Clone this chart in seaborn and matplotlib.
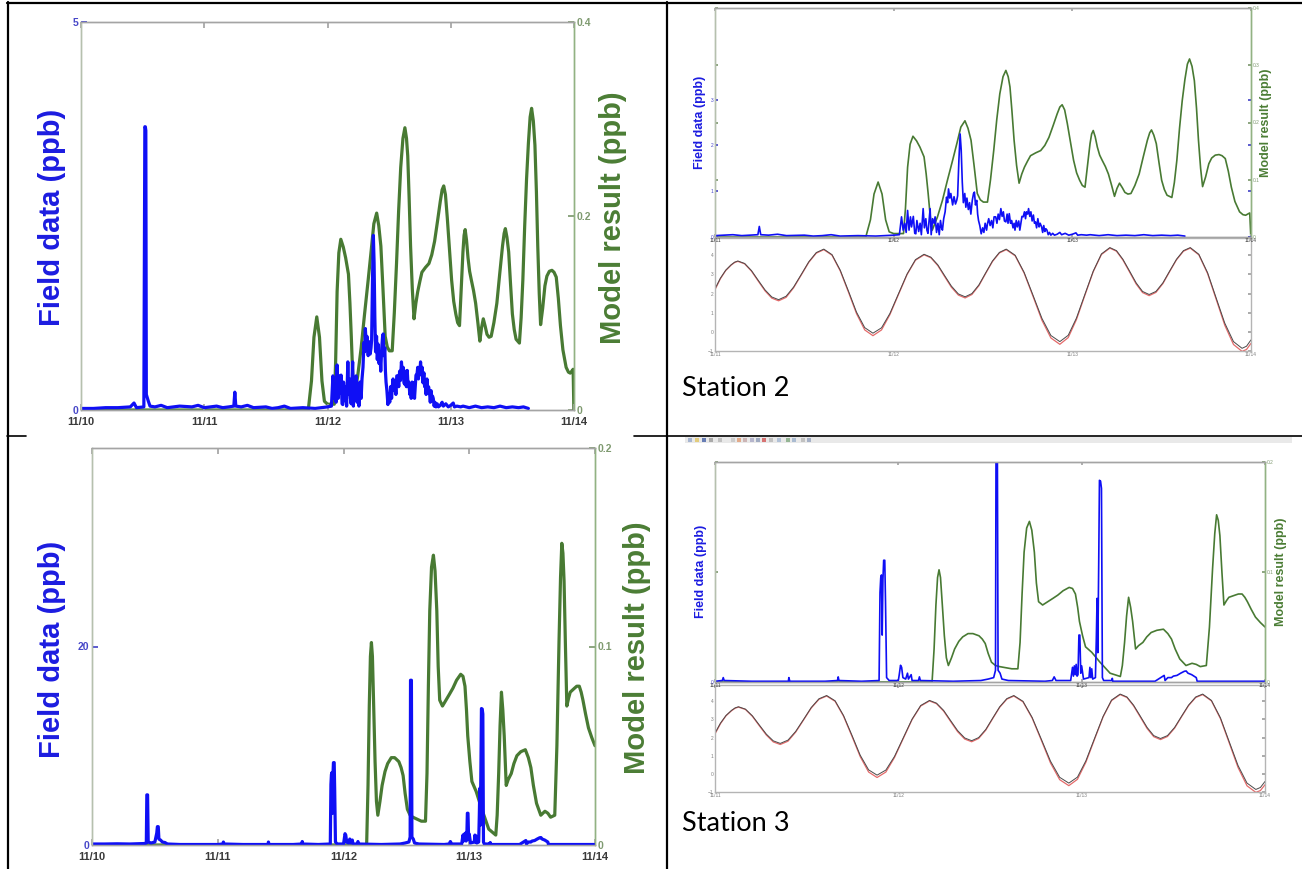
import matplotlib
matplotlib.use("Agg")
import matplotlib.pyplot as plt
from matplotlib.lines import Line2D
from matplotlib.patches import Rectangle
import seaborn as sns

sns.set_theme(style="white")
plt.rcParams["font.family"] = ["Liberation Sans", "DejaVu Sans"]

# ---------------- data (time in days after 11/10 00:00) ----------------
day_ticks = [0, 1, 2, 3, 4]
day_labels = ["11/10", "11/11", "11/12", "11/13", "11/14"]

# Station 1/2 field data (ppb)
field1_t = [0.00, 0.10, 0.20, 0.30, 0.40, 0.43, 0.45, 0.51, 0.518, 0.522, 0.526, 0.530, 0.545, 0.56,
            0.60, 0.65, 0.70, 0.80, 0.90, 0.95, 1.00, 1.10, 1.15, 1.20, 1.24, 1.248, 1.256, 1.30,
            1.35, 1.40, 1.50, 1.55, 1.60, 1.65, 1.70, 1.80, 1.90, 1.95, 2.00, 2.032,
            2.044, 2.053, 2.062, 2.07, 2.078, 2.086, 2.094, 2.10, 2.11, 2.118, 2.124, 2.13, 2.14,
            2.148, 2.155, 2.165, 2.172, 2.18, 2.186, 2.192, 2.20, 2.204, 2.21, 2.218, 2.226, 2.232,
            2.24, 2.248, 2.255, 2.262, 2.268, 2.273, 2.28, 2.288, 2.296, 2.302, 2.307, 2.314, 2.32,
            2.33, 2.338, 2.346, 2.353, 2.358, 2.365, 2.372, 2.378, 2.384, 2.39, 2.398, 2.404, 2.41,
            2.418, 2.425, 2.432, 2.44, 2.447, 2.452, 2.458, 2.465, 2.47, 2.475, 2.482, 2.49, 2.498,
            2.505, 2.512, 2.52, 2.525, 2.532, 2.54, 2.548, 2.555, 2.562, 2.571, 2.578, 2.585, 2.592,
            2.60, 2.607, 2.614, 2.62, 2.628, 2.635, 2.64, 2.647, 2.654, 2.66, 2.668, 2.674, 2.679,
            2.686, 2.692, 2.70, 2.706, 2.712, 2.718, 2.725, 2.732, 2.738, 2.743, 2.75, 2.755, 2.762,
            2.768, 2.775, 2.782, 2.788, 2.794, 2.80, 2.807, 2.814, 2.82, 2.828, 2.834, 2.84, 2.846,
            2.852, 2.858, 2.865, 2.872, 2.88, 2.89, 2.90, 2.915, 2.93, 2.94, 2.96, 2.98, 3.00, 3.02,
            3.03, 3.05, 3.08, 3.10, 3.15, 3.20, 3.25, 3.30, 3.35, 3.40, 3.45, 3.50, 3.55, 3.59, 3.63]
field1_v = [0.02, 0.02, 0.03, 0.03, 0.04, 0.09, 0.03, 0.04, 3.65, 3.65, 3.60, 0.20, 0.12, 0.05,
            0.04, 0.06, 0.03, 0.05, 0.04, 0.06, 0.03, 0.05, 0.03, 0.04, 0.05, 0.23, 0.05, 0.04,
            0.06, 0.03, 0.04, 0.02, 0.03, 0.05, 0.02, 0.03, 0.02, 0.03, 0.04, 0.05,
            0.44, 0.15, 0.30, 0.10, 0.58, 0.15, 0.44, 0.22, 0.45, 0.08, 0.07, 0.36, 0.12,
            0.30, 0.05, 0.62, 0.20, 0.40, 0.15, 0.08, 0.45, 0.62, 0.05, 0.40, 0.30, 0.44,
            0.10, 0.30, 0.05, 0.36, 0.20, 0.15, 0.40, 0.55, 0.87, 0.75, 1.05, 0.85, 0.95,
            0.70, 0.88, 0.72, 0.80, 0.90, 1.67, 2.25, 1.90, 1.20, 0.75, 0.95, 0.65, 0.85,
            0.60, 0.75, 0.50, 0.80, 0.95, 0.98, 0.70, 0.80, 0.50, 0.36, 0.25, 0.07, 0.20,
            0.10, 0.30, 0.15, 0.29, 0.40, 0.25, 0.36, 0.20, 0.44, 0.44, 0.30, 0.50, 0.38,
            0.62, 0.45, 0.55, 0.35, 0.33, 0.50, 0.30, 0.51, 0.30, 0.36, 0.20, 0.30, 0.15,
            0.36, 0.22, 0.35, 0.15, 0.30, 0.45, 0.44, 0.55, 0.40, 0.55, 0.50, 0.62, 0.45,
            0.55, 0.35, 0.48, 0.30, 0.33, 0.20, 0.40, 0.22, 0.30, 0.22, 0.10, 0.25, 0.12,
            0.18, 0.15, 0.05, 0.10, 0.04, 0.08, 0.04, 0.06, 0.10, 0.05, 0.08, 0.04, 0.06, 0.09,
            0.04, 0.05, 0.04, 0.05, 0.03, 0.05, 0.03, 0.04, 0.03, 0.05, 0.03, 0.04, 0.03, 0.04, 0.02]

# Station 1/2 model result (ppb)
model1_t = [0.0, 1.844, 1.87, 1.89, 1.913, 1.935, 1.955, 1.975, 2.0, 2.055, 2.066, 2.078, 2.092, 2.108,
            2.128, 2.147, 2.17, 2.182, 2.193, 2.205, 2.216, 2.245, 2.273, 2.30, 2.33, 2.355, 2.376,
            2.399, 2.416, 2.433, 2.45, 2.468, 2.485, 2.502, 2.525, 2.542, 2.56, 2.577, 2.594, 2.612,
            2.628, 2.641, 2.651, 2.662, 2.674, 2.688, 2.702, 2.717, 2.732, 2.75, 2.766, 2.795, 2.823,
            2.846, 2.869, 2.893, 2.915, 2.93, 2.943, 2.957, 2.972, 2.99, 3.007, 3.024, 3.041, 3.056,
            3.071, 3.085, 3.099, 3.108, 3.117, 3.128, 3.14, 3.153, 3.167, 3.185, 3.202, 3.22, 3.236,
            3.25, 3.264, 3.28, 3.294, 3.311, 3.328, 3.35, 3.374, 3.397, 3.42, 3.433, 3.443, 3.456,
            3.47, 3.485, 3.50, 3.515, 3.53, 3.557, 3.571, 3.585, 3.60, 3.615, 3.63, 3.644, 3.656,
            3.67, 3.683, 3.695, 3.706, 3.718, 3.729, 3.746, 3.764, 3.78, 3.80, 3.821, 3.838, 3.856,
            3.873, 3.89, 3.91, 3.936, 3.955, 3.97, 3.993, 3.999]
model1_v = [0.0, 0.0, 0.03, 0.075, 0.096, 0.075, 0.03, 0.009, 0.006, 0.006, 0.05, 0.122, 0.162, 0.176,
            0.168, 0.157, 0.14, 0.11, 0.076, 0.035, 0.012, 0.035, 0.064, 0.098, 0.134, 0.165, 0.192,
            0.203, 0.19, 0.169, 0.125, 0.076, 0.065, 0.061, 0.061, 0.10, 0.151, 0.205, 0.25, 0.28,
            0.291, 0.28, 0.262, 0.22, 0.169, 0.125, 0.094, 0.11, 0.122, 0.133, 0.142, 0.147, 0.151,
            0.16, 0.174, 0.195, 0.215, 0.227, 0.231, 0.222, 0.198, 0.165, 0.134, 0.112, 0.099, 0.09,
            0.087, 0.125, 0.163, 0.18, 0.186, 0.175, 0.157, 0.143, 0.134, 0.123, 0.11, 0.09, 0.071,
            0.085, 0.094, 0.086, 0.078, 0.075, 0.076, 0.09, 0.11, 0.14, 0.169, 0.182, 0.187, 0.178,
            0.163, 0.13, 0.099, 0.083, 0.073, 0.069, 0.095, 0.134, 0.19, 0.238, 0.275, 0.302, 0.311,
            0.298, 0.273, 0.225, 0.169, 0.12, 0.088, 0.105, 0.128, 0.138, 0.143, 0.144, 0.142, 0.137,
            0.115, 0.087, 0.062, 0.044, 0.039, 0.038, 0.042, 0.0]

# Station 3 field data (ppb)
field3_t = [0.0, 0.1, 0.2, 0.3, 0.42, 0.432, 0.436, 0.442, 0.447, 0.47, 0.50, 0.515, 0.52, 0.527, 0.532,
            0.545, 0.56, 0.58, 0.60, 0.7, 0.8, 1.0, 1.04, 1.045, 1.05, 1.2, 1.4, 1.403, 1.408, 1.6,
            1.668, 1.672, 1.676, 1.8, 1.895, 1.90, 1.904, 1.908, 1.912, 1.916, 1.92, 1.926, 1.93,
            1.936, 1.95, 2.0, 2.005, 2.012, 2.018, 2.025, 2.04, 2.05, 2.055, 2.07, 2.075, 2.11, 2.115,
            2.12, 2.3, 2.45, 2.49, 2.52, 2.53, 2.533, 2.54, 2.544, 2.555, 2.565, 2.6, 2.8, 2.84, 2.85,
            2.86, 2.94, 2.95, 2.955, 2.96, 2.965, 2.97, 2.975, 2.98, 2.985, 2.99, 2.995, 3.0, 3.01,
            3.04, 3.045, 3.05, 3.055, 3.06, 3.075, 3.08, 3.084, 3.088, 3.093, 3.097, 3.103, 3.108,
            3.113, 3.12, 3.165, 3.167, 3.17, 3.4, 3.45, 3.455, 3.47, 3.49, 3.50, 3.52, 3.54, 3.56,
            3.57, 3.58, 3.60, 3.625, 3.63, 3.8, 4.0]
field3_v = [0.1, 0.1, 0.12, 0.1, 0.15, 0.2, 5.05, 5.05, 0.3, 0.2, 0.3, 1.2, 1.85, 1.85, 0.6,
            0.5, 0.3, 0.25, 0.1, 0.05, 0.05, 0.05, 0.1, 0.3, 0.1, 0.05, 0.05, 0.3, 0.05, 0.05,
            0.1, 0.35, 0.1, 0.05, 0.1, 6.1, 7.1, 7.3, 3.2, 7.0, 8.3, 8.3, 5.5,
            0.3, 0.1, 0.1, 0.5, 1.14, 1.0, 0.3, 0.2, 0.6, 0.2, 0.5, 0.1, 0.1, 0.35,
            0.1, 0.05, 0.1, 0.2, 0.3, 0.8, 16.6, 16.6, 0.8, 0.6, 0.2, 0.1, 0.05, 0.1, 0.35,
            0.1, 0.1, 1.0, 0.4, 1.1, 0.5, 1.2, 0.4, 0.5, 3.2, 3.2, 0.6, 1.1, 0.2,
            0.3, 1.0, 0.3, 0.9, 0.2, 0.3, 3.0, 5.7, 2.0, 8.1, 13.75, 13.7, 13.2,
            0.3, 0.1, 0.1, 0.25, 0.05, 0.05, 0.45, 0.1, 0.3, 0.3, 0.4, 0.45, 0.6, 0.73,
            0.75, 0.6, 0.5, 0.3, 0.05, 0.05, 0.05]

# Station 3 model result (ppb)
model3_t = [0.0, 2.184, 2.195, 2.205, 2.214, 2.222, 2.23, 2.24, 2.251, 2.262, 2.273, 2.29, 2.307, 2.33,
            2.351, 2.38, 2.407, 2.44, 2.458, 2.474, 2.49, 2.508, 2.53, 2.552, 2.619, 2.652, 2.664,
            2.675, 2.686, 2.70, 2.715, 2.728, 2.742, 2.753, 2.765, 2.787, 2.815, 2.843, 2.87, 2.899,
            2.932, 2.95, 2.966, 2.978, 2.988, 3.005, 3.021, 3.055, 3.10, 3.155, 3.211, 3.222, 3.234,
            3.245, 3.256, 3.267, 3.278, 3.294, 3.31, 3.334, 3.355, 3.379, 3.41, 3.446, 3.47, 3.49,
            3.51, 3.535, 3.569, 3.602, 3.625, 3.647, 3.68, 3.697, 3.714, 3.726, 3.736, 3.745, 3.754,
            3.765, 3.776, 3.79, 3.803, 3.837, 3.855, 3.875, 3.89, 3.904, 3.925, 3.948, 3.975, 4.0]
model3_v = [0.0, 0.0, 0.03, 0.07, 0.095, 0.102, 0.095, 0.07, 0.042, 0.022, 0.015, 0.022, 0.03, 0.037,
            0.041, 0.044, 0.044, 0.042, 0.039, 0.035, 0.026, 0.018, 0.015, 0.014, 0.012, 0.012, 0.036,
            0.08, 0.118, 0.14, 0.146, 0.138, 0.118, 0.09, 0.073, 0.07, 0.073, 0.076, 0.079, 0.083,
            0.086, 0.085, 0.08, 0.068, 0.055, 0.042, 0.032, 0.027, 0.018, 0.008, 0.005, 0.015, 0.036,
            0.06, 0.077, 0.068, 0.055, 0.03, 0.033, 0.036, 0.041, 0.045, 0.047, 0.048, 0.044, 0.039,
            0.03, 0.021, 0.015, 0.017, 0.016, 0.014, 0.015, 0.05, 0.103, 0.135, 0.152, 0.147, 0.133,
            0.10, 0.07, 0.074, 0.077, 0.079, 0.08, 0.08, 0.077, 0.073, 0.066, 0.059, 0.054, 0.05]

# Water level (tide) for stations 2 and 3
tide_t = [1.0, 1.03, 1.06, 1.09, 1.11, 1.128,
          1.166, 1.204, 1.242, 1.280, 1.318, 1.356,
          1.398, 1.440, 1.483, 1.525, 1.567, 1.609,
          1.655, 1.701, 1.747, 1.792, 1.838, 1.884,
          1.932, 1.979, 2.027, 2.075, 2.122, 2.17,
          2.208, 2.247, 2.285, 2.323, 2.362, 2.40,
          2.438, 2.477, 2.515, 2.553, 2.592, 2.63,
          2.68, 2.73, 2.78, 2.83, 2.88, 2.93,
          2.977, 3.023, 3.07, 3.117, 3.163, 3.21,
          3.247, 3.283, 3.32, 3.357, 3.393, 3.43,
          3.468, 3.507, 3.545, 3.583, 3.622, 3.66,
          3.708, 3.757, 3.805, 3.853, 3.902, 3.95,
          3.975, 4.0]
tide_obs = [2.25, 2.80, 3.22, 3.50, 3.64, 3.70,
            3.57, 3.20, 2.69, 2.19, 1.82, 1.68,
            1.86, 2.34, 3.00, 3.66, 4.14, 4.32,
            4.03, 3.22, 2.13, 1.03, 0.22, -0.07,
            0.21, 0.96, 1.99, 3.02, 3.77, 4.05,
            3.90, 3.50, 2.94, 2.39, 1.98, 1.83,
            2.00, 2.45, 3.08, 3.70, 4.15, 4.32,
            4.00, 3.11, 1.91, 0.70, -0.19, -0.51,
            -0.18, 0.72, 1.95, 3.17, 4.07, 4.40,
            4.24, 3.79, 3.18, 2.56, 2.11, 1.95,
            2.11, 2.56, 3.18, 3.79, 4.24, 4.40,
            4.05, 3.09, 1.77, 0.46, -0.51, -0.86,
            -0.75, -0.42]
tide_mod = [2.20, 2.77, 3.20, 3.48, 3.62, 3.68,
            3.55, 3.17, 2.65, 2.14, 1.76, 1.62,
            1.80, 2.30, 2.97, 3.63, 4.11, 4.29,
            4.00, 3.18, 2.07, 0.95, 0.10, -0.20,
            0.10, 0.90, 1.95, 2.99, 3.74, 4.02,
            3.87, 3.46, 2.89, 2.33, 1.92, 1.77,
            1.95, 2.41, 3.05, 3.67, 4.12, 4.29,
            3.97, 3.07, 1.85, 0.60, -0.32, -0.65,
            -0.30, 0.64, 1.90, 3.14, 4.04, 4.37,
            4.21, 3.75, 3.13, 2.50, 2.05, 1.89,
            2.06, 2.52, 3.15, 3.76, 4.21, 4.37,
            4.02, 3.04, 1.70, 0.35, -0.66, -1.02,
            -0.92, -0.60]

# ---------------- styling ----------------
BLUE = "#0f0ff5"
GREEN = "#487a33"
LBL_BLUE = "#1c1ce0"
LBL_GREEN = "#4b7d35"
TK_BLUE = "#4747c8"
TK_GREEN = "#7f9a70"
TK_GRAY = "#3a3a3a"
SP_GRAY = "#a4a4a4"
SP_LEFT = "#b6c0ae"
SP_RIGHT = "#92b283"

W, H = 1302, 869
fig = plt.figure(figsize=(W / 100, H / 100), dpi=100)
fig.patch.set_facecolor("white")


def rect(l, t, r, b):
    return [l / W, 1 - b / H, (r - l) / W, (b - t) / H]


def fx(x):
    return x / W


def fy(y):
    return 1 - y / H


def line(ax, t, v, color, lw):
    sns.lineplot(x=t, y=v, ax=ax, color=color, linewidth=lw, estimator=None,
                 sort=False, legend=False)
    ax.set_xlabel("")
    ax.set_ylabel("")


def style_spines(ax):
    for side, col in (("top", SP_GRAY), ("bottom", SP_GRAY), ("left", SP_LEFT), ("right", SP_RIGHT)):
        ax.spines[side].set_visible(True)
        ax.spines[side].set_color(col)
        ax.spines[side].set_linewidth(1.0)


def dual_panel(box, field_t, field_v, model_t, model_v, xlim, ylim_l, ylim_r,
               yt_l, yt_r, lw, big):
    ax = fig.add_axes(rect(*box))
    ax2 = ax.twinx()
    line(ax2, model_t, model_v, GREEN, lw)
    line(ax, field_t, field_v, BLUE, lw)
    ax.set_zorder(ax2.get_zorder() + 1)
    ax.patch.set_visible(False)
    ax.set_xlim(*xlim)
    ax.set_ylim(*ylim_l)
    ax2.set_ylim(*ylim_r)
    ticks = [d for d in day_ticks if xlim[0] <= d <= xlim[1]]
    ax.set_xticks(ticks)
    ax.set_xticklabels([day_labels[d] for d in ticks])
    ax.set_yticks(yt_l)
    ax2.set_yticks(yt_r)
    ax2.set_yticklabels([("%g" % v) for v in yt_r])
    ax.set_yticklabels([("%g" % v) for v in yt_l])
    style_spines(ax)
    style_spines(ax2)
    if big:
        fs_x, fs_y, tl, px, py = 8, 7.5, 4, 5, 2
        wx = "bold"
    else:
        fs_x, fs_y, tl, px, py = 3.5, 3.5, 2.5, 1, 1
        wx = "normal"
    ax.tick_params(axis="x", direction="in", length=tl, top=True, bottom=True,
                   colors=SP_GRAY, labelcolor=TK_GRAY, labelsize=fs_x, pad=px)
    ax.tick_params(axis="y", direction="in", length=tl, left=True, right=not big,
                   colors=TK_BLUE, labelcolor=TK_BLUE, labelsize=fs_y, pad=py)
    ax2.tick_params(axis="y", direction="in", length=tl, left=not big, right=True,
                    colors=TK_GREEN, labelcolor=TK_GREEN, labelsize=fs_y, pad=py)
    for lab in ax.get_xticklabels():
        lab.set_fontweight(wx)
    for lab in ax.get_yticklabels() + ax2.get_yticklabels():
        lab.set_fontweight(wx)
    ax.grid(False)
    ax2.grid(False)
    return ax, ax2


def tide_panel(box):
    ax = fig.add_axes(rect(*box))
    line(ax, tide_t, tide_mod, "#e46a6a", 0.9)
    line(ax, tide_t, tide_obs, "#4a4a4a", 0.7)
    ax.set_xlim(1, 4)
    ax.set_ylim(-1, 4.9)
    ax.set_xticks([1, 2, 3, 4])
    ax.set_xticklabels(day_labels[1:])
    ax.set_yticks([-1, 0, 1, 2, 3, 4])
    for side in ("top", "bottom", "left", "right"):
        ax.spines[side].set_visible(True)
        ax.spines[side].set_color("#b4b4b4")
        ax.spines[side].set_linewidth(1.0)
    ax.tick_params(axis="both", direction="in", length=2.5, top=True, right=True,
                   colors="#a0a0a0", labelcolor="#808080", labelsize=3.5, pad=1)
    ax.grid(False)
    return ax


# ----- top-left (station 1) -----
dual_panel((81, 22, 574, 410), field1_t, field1_v, model1_t, model1_v,
           (0, 4), (0, 5), (0, 0.4), [0, 5], [0, 0.2, 0.4], 2.3, True)
fig.text(fx(52.5), fy(217), "Field data (ppb)", rotation=90, ha="center", va="center",
         fontsize=21, fontweight="bold", color=LBL_BLUE)
fig.text(fx(613), fy(218), "Model result (ppb)", rotation=90, ha="center", va="center",
         fontsize=21, fontweight="bold", color=LBL_GREEN)

# ----- bottom-left (station 3 full) -----
dual_panel((92, 448, 595, 845), field3_t, field3_v, model3_t, model3_v,
           (0, 4), (0, 40), (0, 0.2), [0, 20], [0, 0.1, 0.2], 2.3, True)
fig.text(fx(52.5), fy(649), "Field data (ppb)", rotation=90, ha="center", va="center",
         fontsize=21, fontweight="bold", color=LBL_BLUE)
fig.text(fx(637), fy(648), "Model result (ppb)", rotation=90, ha="center", va="center",
         fontsize=21, fontweight="bold", color=LBL_GREEN)

# ----- top-right (Station 2) -----
dual_panel((715, 8, 1251, 237), field1_t, field1_v, model1_t, model1_v,
           (1, 4), (0, 5), (0, 0.4), [0, 1, 2, 3], [0, 0.1, 0.2, 0.3, 0.4], 1.2, False)
tide_panel((715, 238, 1251, 351))
fig.text(fx(700), fy(122.5), "Field data (ppb)", rotation=90, ha="center", va="center",
         fontsize=9, fontweight="bold", color=LBL_BLUE)
fig.text(fx(1266), fy(123), "Model result (ppb)", rotation=90, ha="center", va="center",
         fontsize=9, fontweight="bold", color=LBL_GREEN)
fig.text(fx(682), fy(396), "Station 2", ha="left", va="baseline", fontsize=19.5,
         family=["Lato", "DejaVu Sans"], color="black")

# ----- bottom-right (Station 3) -----
dual_panel((715, 462, 1265, 682), field3_t, field3_v, model3_t, model3_v,
           (1, 4), (0, 15), (0, 0.2), [0], [0, 0.1, 0.2], 1.2, False)
tide_panel((715, 685, 1265, 792))
fig.text(fx(701), fy(571.5), "Field data (ppb)", rotation=90, ha="center", va="center",
         fontsize=9, fontweight="bold", color=LBL_BLUE)
fig.text(fx(1281), fy(572), "Model result (ppb)", rotation=90, ha="center", va="center",
         fontsize=9, fontweight="bold", color=LBL_GREEN)
fig.text(fx(682), fy(831), "Station 3", ha="left", va="baseline", fontsize=19.5,
         family=["Lato", "DejaVu Sans"], color="black")

# ----- screenshot toolbar strip (decoration) -----
fig.patches.append(Rectangle((fx(685), fy(443)), (1292 - 685) / W, 6 / H,
                             transform=fig.transFigure, facecolor="#e9e9e9",
                             edgecolor="none", zorder=1))
icon_cols = ["#8aa0c8", "#e0c050", "#3050a0", "#909090", "#b0b0b0", "#c0c0c0", "#e09060",
             "#c0a0a0", "#a0a0c0", "#8090b0", "#d04040", "#b0b0b0", "#9ab0d0", "#70a070",
             "#90a8c8", "#b0b0b0", "#8898b8"]
icon_x = [688, 695, 702, 709, 718, 731, 737, 743, 750, 756, 762, 769, 777, 786, 792, 801, 807]
for xi, ci in zip(icon_x, icon_cols):
    fig.patches.append(Rectangle((fx(xi), fy(442)), 4 / W, 4 / H, transform=fig.transFigure,
                                 facecolor=ci, edgecolor="none", alpha=0.7, zorder=2))


# ----- table borders -----
def hline(y, x0, x1, lw=1.6):
    fig.add_artist(Line2D([fx(x0), fx(x1)], [fy(y), fy(y)], transform=fig.transFigure,
                          color="black", linewidth=lw))


def vline(x, y0, y1, lw=1.6):
    fig.add_artist(Line2D([fx(x), fx(x)], [fy(y0), fy(y1)], transform=fig.transFigure,
                          color="black", linewidth=lw))


hline(3, 7, 1302)
vline(8, 2, 869)
vline(667, 2, 869)
hline(436, 7, 26, lw=1.2)
hline(436, 634, 1302, lw=1.2)

fig.savefig("out.png", dpi=100, facecolor="white")
